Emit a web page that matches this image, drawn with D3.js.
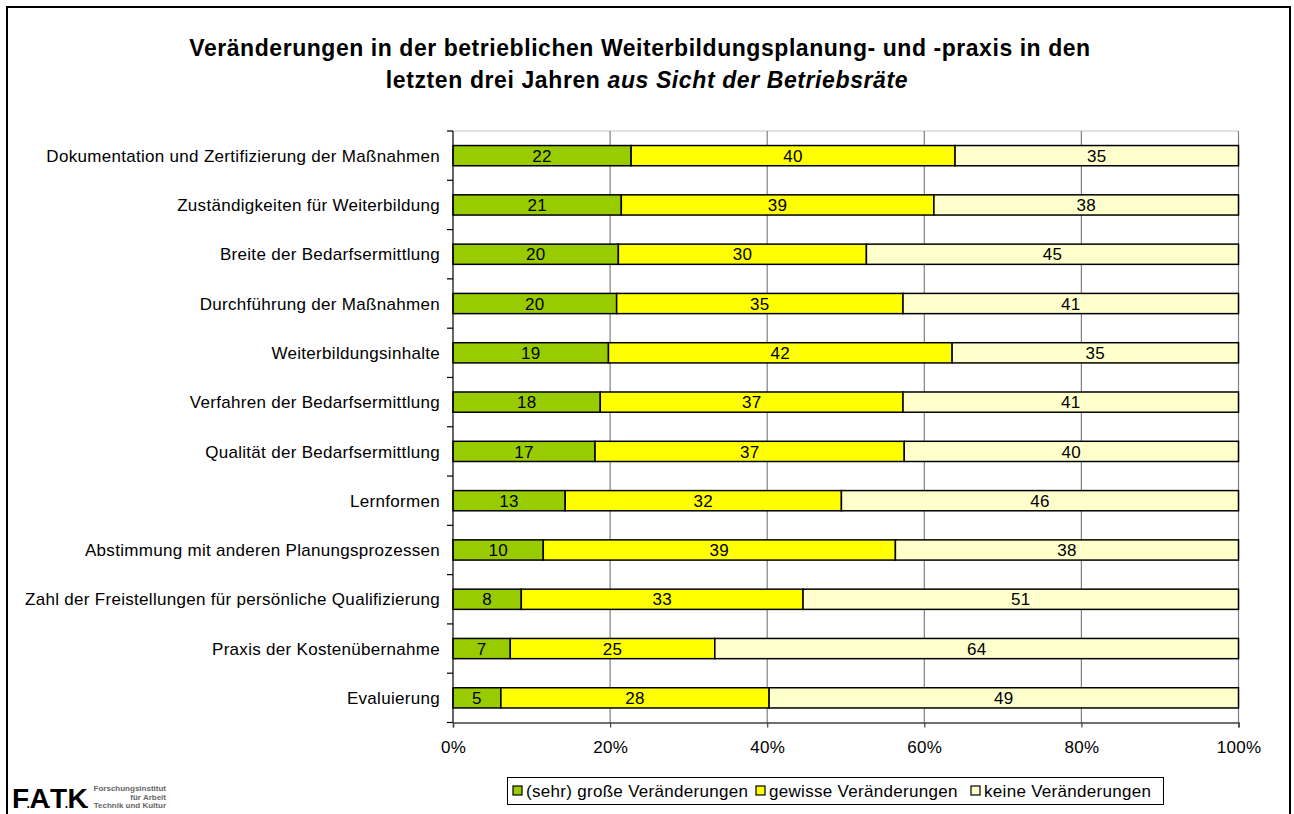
<!DOCTYPE html>
<html><head><meta charset="utf-8">
<script src="https://cdn.jsdelivr.net/npm/d3@7"></script>
<style>
html,body{margin:0;padding:0;background:#fff;}
svg{display:block;font-family:"Liberation Sans",Arial,sans-serif;}
</style></head>
<body>
<svg id="chart" width="1294" height="814"></svg>
<script>
const categories = [
  "Dokumentation und Zertifizierung der Maßnahmen",
  "Zuständigkeiten für Weiterbildung",
  "Breite der Bedarfsermittlung",
  "Durchführung der Maßnahmen",
  "Weiterbildungsinhalte",
  "Verfahren der Bedarfsermittlung",
  "Qualität der Bedarfsermittlung",
  "Lernformen",
  "Abstimmung mit anderen Planungsprozessen",
  "Zahl der Freistellungen für persönliche Qualifizierung",
  "Praxis der Kostenübernahme",
  "Evaluierung"
];
const seriesNames = ["(sehr) große Veränderungen", "gewisse Veränderungen", "keine Veränderungen"];
const grosse  = [22, 21, 20, 20, 19, 18, 17, 13, 10, 8, 7, 5];
const gewisse = [40, 39, 30, 35, 42, 37, 37, 32, 39, 33, 25, 28];
const keine   = [35, 38, 45, 41, 35, 41, 40, 46, 38, 51, 64, 49];
const xTicks = [0, 0.2, 0.4, 0.6, 0.8, 1.0];
const colors = ["#99CC00", "#FFFF00", "#FFFFCC"];

(function () {
const svg = d3.select("#chart");
const font = "'Liberation Sans', Arial, sans-serif";
const fs = 17, ls = 0.3;

// outer frame
svg.append("rect").attr("x", 7).attr("y", 7).attr("width", 1283).attr("height", 830)
  .attr("fill", "none").attr("stroke", "#000").attr("stroke-width", 2);

// title
svg.append("text").attr("font-weight", "bold").attr("font-size", 23).attr("letter-spacing", 0.55).attr("fill", "#000")
  .attr("x", 640).attr("y", 56).attr("text-anchor", "middle")
  .text("Veränderungen in der betrieblichen Weiterbildungsplanung- und -praxis in den");
const t2 = svg.append("text").attr("font-weight", "bold").attr("font-size", 23).attr("letter-spacing", 0.6).attr("fill", "#000")
  .attr("x", 647).attr("y", 88).attr("text-anchor", "middle");
t2.append("tspan").text("letzten drei Jahren ");
t2.append("tspan").attr("font-style", "italic").text("aus Sicht der Betriebsräte");

const pL = 453, pR = 1238.5, pT = 131, pB = 722.5;
const x = d3.scaleLinear().domain([0, 1]).range([pL, pR]);
const y = d3.scaleBand().domain(categories).range([pT, pB]).paddingInner(0.59).paddingOuter(0.295);

const rows = categories.map((c, i) => {
  const vals = [grosse[i], gewisse[i], keine[i]];
  return {cat: c, vals, tot: d3.sum(vals)};
});
const stackData = rows.map(r => ({cat: r.cat, s0: r.vals[0] / r.tot, s1: r.vals[1] / r.tot, s2: r.vals[2] / r.tot}));
const series = d3.stack().keys(["s0", "s1", "s2"])(stackData);

// top plot border
svg.append("line").attr("x1", pL).attr("x2", pR).attr("y1", pT).attr("y2", pT)
  .attr("stroke", "#c0c0c0").attr("stroke-width", 1);

// gridlines
svg.append("g").selectAll("line").data(xTicks.slice(1)).join("line")
  .attr("x1", d => x(d)).attr("x2", d => x(d)).attr("y1", pT).attr("y2", pB)
  .attr("stroke", "#808080").attr("stroke-width", 1.2);

// bars
const g = svg.append("g");
series.forEach((s, si) => {
  g.selectAll(null).data(s).join("rect")
    .attr("x", d => x(d[0])).attr("width", d => x(d[1]) - x(d[0]))
    .attr("y", d => y(d.data.cat)).attr("height", y.bandwidth())
    .attr("fill", colors[si]).attr("stroke", "#000").attr("stroke-width", 1.5);
  g.selectAll(null).data(s).join("text")
    .attr("x", d => (x(d[0]) + x(d[1])) / 2)
    .attr("y", d => y(d.data.cat) + y.bandwidth() / 2)
    .attr("dy", "0.36em").attr("text-anchor", "middle").attr("font-size", fs).attr("letter-spacing", ls).attr("fill", "#000")
    .text((d, i) => rows[i].vals[si]);
});

// y axis
const yTickPos = d3.range(categories.length + 1).map(i => pT + i * y.step());
svg.append("line").attr("x1", pL).attr("x2", pL).attr("y1", pT).attr("y2", pB)
  .attr("stroke", "#000").attr("stroke-width", 1.2);
svg.append("g").selectAll("line").data(yTickPos).join("line")
  .attr("x1", pL - 6).attr("x2", pL).attr("y1", d => d).attr("y2", d => d)
  .attr("stroke", "#000").attr("stroke-width", 1.2);
svg.append("g").selectAll("text").data(categories).join("text")
  .attr("x", 440).attr("y", d => y(d) + y.bandwidth() / 2).attr("dy", "0.36em")
  .attr("text-anchor", "end").attr("font-size", fs).attr("letter-spacing", ls).attr("fill", "#000").text(d => d);

// x axis
const xAxis = d3.axisBottom(x).tickValues(xTicks).tickFormat(d3.format(".0%")).tickSize(5).tickPadding(13);
const xa = svg.append("g").attr("transform", `translate(0,${pB})`).call(xAxis);
xa.select(".domain").attr("stroke", "#404040").attr("stroke-width", 1.5);
xa.selectAll(".tick line").attr("stroke", "#404040").attr("stroke-width", 1.2);
xa.selectAll(".tick text").attr("font-size", fs).attr("letter-spacing", ls).attr("font-family", font).attr("fill", "#000");

// legend
svg.append("rect").attr("x", 507.5).attr("y", 777.5).attr("width", 656).attr("height", 27)
  .attr("fill", "#fff").attr("stroke", "#000").attr("stroke-width", 1);
const legX = [513, 756, 971];
const lg = svg.append("g").selectAll("g").data(seriesNames).join("g")
  .attr("transform", (d, i) => `translate(${legX[i]},786)`);
lg.append("rect").attr("width", 9).attr("height", 9).attr("fill", (d, i) => colors[i])
  .attr("stroke", "#000").attr("stroke-width", 1.2);
lg.append("text").attr("x", 13).attr("y", 5).attr("dy", "0.36em").attr("font-size", fs).attr("letter-spacing", ls)
  .attr("fill", "#000").text(d => d);

// logo
const logo = svg.append("text").attr("x", 12).attr("y", 808).attr("font-weight", "bold").attr("fill", "#000");
["F", ".", "A", ".", "T", ".", "K", "."].forEach((c, i) => {
  logo.append("tspan").attr("font-size", c === "." ? 12 : 28).attr("letter-spacing", c === "." ? -0.5 : -2.5).text(c);
});
const logoLines = ["Forschungsinstitut", "für Arbeit", "Technik und Kultur"];
svg.append("g").selectAll("text").data(logoLines).join("text")
  .attr("x", 166).attr("y", (d, i) => 791 + i * 8.5).attr("text-anchor", "end")
  .attr("font-size", 8).attr("font-weight", "bold").attr("fill", "#666").text(d => d);
})();
</script>
</body></html>
